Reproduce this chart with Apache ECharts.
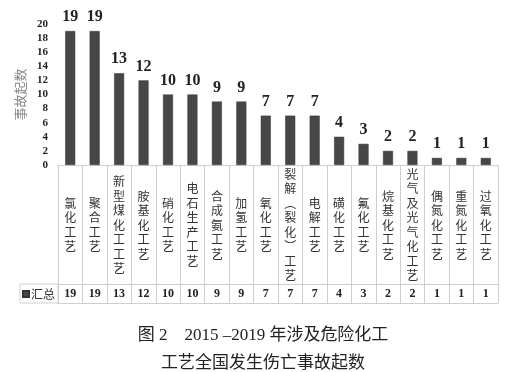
<!DOCTYPE html>
<html><head><meta charset="utf-8">
<script src="https://cdn.jsdelivr.net/npm/echarts@6/dist/echarts.min.js"></script>
<style>html,body{margin:0;padding:0;background:#fff}#c{width:517px;height:372px}</style>
</head><body><div id="c"></div>
<script>
const categories = ['氯化工艺','聚合工艺','新型煤化工工艺','胺基化工艺','硝化工艺','电石生产工艺','合成氨工艺','加氢工艺','氧化工艺','裂解︵裂化︶工艺','电解工艺','磺化工艺','氟化工艺','烷基化工艺','光气及光气化工艺','偶氮化工艺','重氮化工艺','过氧化工艺'];
const values = [19,19,13,12,10,10,9,9,7,7,7,4,3,2,2,1,1,1];
const seriesName = '汇总';
const yTicks = {min:0, max:20, interval:2};
const titleText = '图 2　2015 –2019 年涉及危险化工\n工艺全国发生伤亡事故起数';
const yName = '事故起数';

const serif = '"Liberation Serif","Noto Sans CJK SC",serif';
const cjk = '"Noto Sans CJK SC",sans-serif';
const lineColor = '#cfcfcf';

const chart = echarts.init(document.getElementById('c'));
chart.setOption({
  animation:false,
  grid:{left:58,right:19,top:24,bottom:207},
  title:{text:titleText,left:258,top:317,textAlign:'center',
    textStyle:{fontFamily:serif,fontSize:17,lineHeight:28,fontWeight:'normal',color:'#222'}},
  legend:{data:[seriesName],left:22,top:288,icon:'rect',itemWidth:6,itemHeight:6,itemGap:0,
    padding:0,textStyle:{fontFamily:cjk,fontSize:12,color:'#333',padding:[0,0,0,-3]}},
  graphic:[{type:'rect',shape:{x:20,y:284,width:38,height:19},style:{fill:'none',stroke:lineColor,lineWidth:1}}],
  xAxis:[
    {type:'category',data:categories,
     axisLine:{lineStyle:{color:lineColor}},
     axisTick:{show:true,length:138,lineStyle:{color:lineColor}},
     axisLabel:{interval:0,margin:60,verticalAlign:'middle',fontFamily:cjk,fontSize:12,lineHeight:14.5,color:'#333',
       formatter:v=>v.split('').join('\n')}},
    {type:'category',data:categories,position:'bottom',offset:119,
     axisLine:{lineStyle:{color:lineColor}},axisTick:{show:false},
     axisLabel:{interval:0,margin:10,verticalAlign:'middle',fontFamily:serif,fontWeight:'bold',fontSize:12,color:'#222',
       formatter:(v,i)=>String(values[i])}},
    {type:'category',data:categories,position:'bottom',offset:138,
     axisLine:{lineStyle:{color:lineColor}},axisTick:{show:false},axisLabel:{show:false}}
  ],
  yAxis:{type:'value',min:yTicks.min,max:yTicks.max,interval:yTicks.interval,
    name:yName,nameLocation:'middle',nameRotate:90,nameGap:27,
    nameTextStyle:{fontFamily:cjk,fontSize:13,color:'#888'},
    axisLine:{show:false},axisTick:{show:false},splitLine:{show:false},
    axisLabel:{margin:10,fontFamily:serif,fontWeight:'bold',fontSize:11,color:'#222'}},
  series:[{name:seriesName,type:'bar',data:values,barWidth:10,
    itemStyle:{color:'#474747',borderColor:'#333',borderWidth:0.5},
    label:{show:true,position:'top',distance:6,fontFamily:serif,fontWeight:'bold',fontSize:16,color:'#222'}}]
});
</script></body></html>
